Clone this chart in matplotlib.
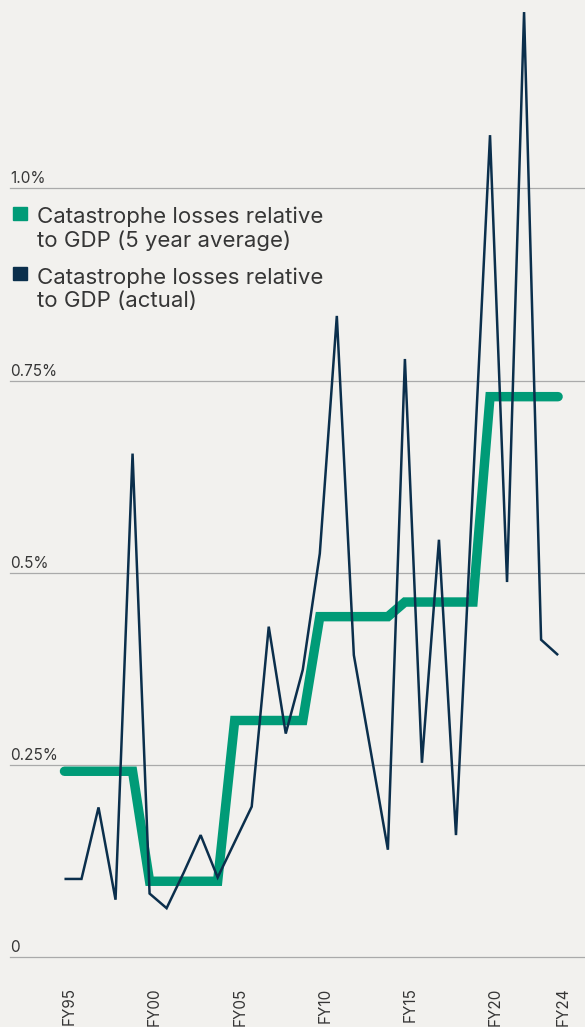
import matplotlib
matplotlib.use("Agg")
import matplotlib.pyplot as plt
from matplotlib.patches import Rectangle
from matplotlib.transforms import ScaledTranslation

plt.rcParams['font.family'] = ['Inter', 'DejaVu Sans']

# data (% of GDP)
years = list(range(1995, 2025))
avg_5yr = [0.242, 0.242, 0.242, 0.242, 0.242,
           0.099, 0.099, 0.099, 0.099, 0.099,
           0.308, 0.308, 0.308, 0.308, 0.308,
           0.443, 0.443, 0.443, 0.443, 0.443,
           0.462, 0.462, 0.462, 0.462, 0.462,
           0.729, 0.729, 0.729, 0.729, 0.729]
actual = [0.102, 0.102, 0.195, 0.075, 0.655, 0.083, 0.064, 0.110, 0.159, 0.104,
          0.150, 0.196, 0.430, 0.291, 0.374, 0.525, 0.834, 0.393, 0.267, 0.140,
          0.778, 0.253, 0.543, 0.159, 0.614, 1.069, 0.488, 1.229, 0.413, 0.393]
xtick_years = [1995, 2000, 2005, 2010, 2015, 2020, 2024]
xtick_labels = ["FY95", "FY00", "FY05", "FY10", "FY15", "FY20", "FY24"]
ytick_vals = [0, 0.25, 0.5, 0.75, 1.0]
ytick_labels = ["0", "0.25%", "0.5%", "0.75%", "1.0%"]
legend_labels = ["Catastrophe losses relative\nto GDP (5 year average)",
                 "Catastrophe losses relative\nto GDP (actual)"]

bg = "#f2f1ee"
green = "#009b77"
navy = "#0b2f4c"
txt = "#363636"

W, H = 585, 1027
fig = plt.figure(figsize=(W / 100, H / 100), dpi=100, facecolor=bg)
ax = fig.add_axes([10 / W, (H - 957.4) / H, 575 / W, 957.4 / H])
ax.set_facecolor(bg)

ax.plot(years, avg_5yr, color=green, lw=6.8, solid_capstyle='round',
        solid_joinstyle='miter', zorder=3)
ax.plot(years, actual, color=navy, lw=1.8, solid_joinstyle='miter',
        solid_capstyle='butt', zorder=4)

ax.set_xlim(1991.8, 2025.58)
ax.set_ylim(0, 1.2447)

for s in ax.spines.values():
    s.set_visible(False)

# gridlines + labels sitting on top of them
ax.set_yticks([])
for v, lab in zip(ytick_vals, ytick_labels):
    ax.axhline(v, color="#aaaaaa", lw=0.9, zorder=1, clip_on=False)
    ax.text(0, v, lab, transform=ax.get_yaxis_transform()
            + ScaledTranslation(0, 5 / 100, fig.dpi_scale_trans),
            ha='left', va='baseline', fontsize=11, color=txt)

ax.set_xticks(xtick_years)
ax.set_xticklabels(xtick_labels, rotation=90, va='top', ha='center',
                   fontsize=11, color=txt)
ax.tick_params(axis='x', length=0, pad=21.5)
for lbl in ax.get_xticklabels():
    lbl.set_transform(lbl.get_transform()
                      + ScaledTranslation(5 / 100, 0, fig.dpi_scale_trans))

# legend, drawn by hand so the swatch lines up with the first text line
for i, (lab, col) in enumerate(zip(legend_labels, [green, navy])):
    y0 = 207 + 60 * i
    fig.patches.append(Rectangle((13 / W, 1 - (y0 + 13) / H), 14 / W, 13 / H,
                                 transform=fig.transFigure, color=col))
    # baseline of the last line of the label
    fig.text(37 / W, 1 - (y0 + 40) / H, lab, ha='left', va='baseline',
             fontsize=16, color=txt, linespacing=1.2)

fig.savefig("out.png", dpi=100, facecolor=bg)
